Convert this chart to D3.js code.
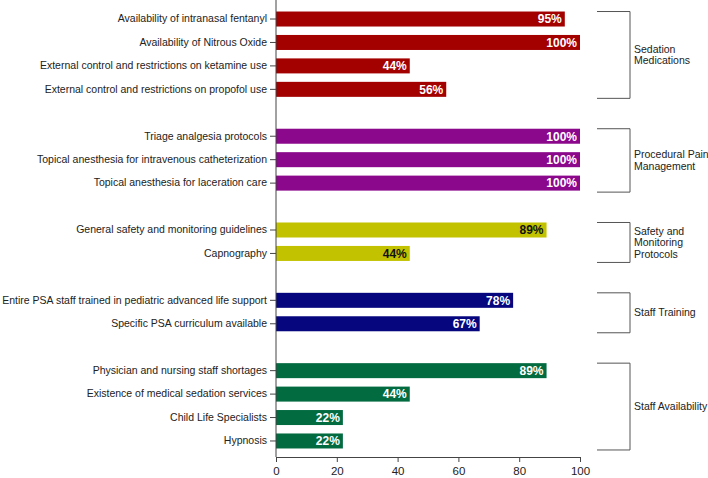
<!DOCTYPE html>
<html><head><meta charset="utf-8">
<script src="https://cdn.jsdelivr.net/npm/d3@7"></script>
<style>body{margin:0;background:#fff}svg{display:block;font-family:"Liberation Sans",Arial,sans-serif}</style>
</head><body>
<script>
const items = [
  "Availability of intranasal fentanyl","Availability of Nitrous Oxide","External control and restrictions on ketamine use","External control and restrictions on propofol use",
  "Triage analgesia protocols","Topical anesthesia for intravenous catheterization","Topical anesthesia for laceration care",
  "General safety and monitoring guidelines","Capnography",
  "Entire PSA staff trained in pediatric advanced life support","Specific PSA curriculum available",
  "Physician and nursing staff shortages","Existence of medical sedation services","Child Life Specialists","Hypnosis"
];
const values = [95,100,44,56, 100,100,100, 89,44, 78,67, 89,44,22,22];
const groupOf = [0,0,0,0, 1,1,1, 2,2, 3,3, 4,4,4,4];
const groupNames = [["Sedation","Medications"],["Procedural Pain","Management"],["Safety and","Monitoring","Protocols"],["Staff Training"],["Staff Availability"]];
const groupColors = ["#A30000","#8B078B","#C2C200","#06067F","#036B40"];
const labelColors = ["#fff","#fff","#111","#fff","#fff"];
const xTicks = [0,20,40,60,80,100];

const W=708,H=478;
const svg=d3.select("body").append("svg").attr("width",W).attr("height",H);

const slots=[];
items.forEach((d,i)=>{ if(i>0 && groupOf[i]!==groupOf[i-1]) slots.push("gap"+i); slots.push(d); });

const x=d3.scaleLinear().domain([0,100]).range([276,580]);
const y=d3.scaleBand().domain(slots).range([7.3,452.7]).paddingInner(0.36).paddingOuter(0.18);

const rows=items.map((d,i)=>({name:d,v:values[i],g:groupOf[i]}));
svg.selectAll("rect.bar").data(rows).join("rect")
  .attr("x",x(0)).attr("y",d=>y(d.name)).attr("width",d=>x(d.v)-x(0)).attr("height",y.bandwidth())
  .attr("fill",d=>groupColors[d.g]);
svg.selectAll("text.val").data(rows).join("text")
  .attr("x",d=>x(d.v)-3).attr("y",d=>y(d.name)+y.bandwidth()/2).attr("dy","0.36em")
  .attr("text-anchor","end").attr("font-size","12px").attr("font-weight","bold")
  .attr("fill",d=>labelColors[d.g]).text(d=>d.v+"%");

const yAxis=d3.axisLeft(y).tickValues(items).tickSize(6).tickPadding(3).tickSizeOuter(0);
const ga=svg.append("g").attr("transform","translate(276,0)").call(yAxis);
ga.select(".domain").remove();
ga.selectAll(".tick line").attr("stroke","#444");
ga.selectAll(".tick text").attr("font-size","10.5px").attr("fill","#222").attr("font-family","'Liberation Sans',Arial,sans-serif");
svg.append("line").attr("x1",276).attr("x2",276).attr("y1",0).attr("y2",457).attr("stroke","#444");

const xAxis=d3.axisBottom(x).tickValues(xTicks).tickSize(5).tickPadding(5).tickSizeOuter(0);
const gx=svg.append("g").attr("transform","translate(0,457)").call(xAxis);
gx.select(".domain").attr("stroke","#444");
gx.selectAll(".tick line").attr("stroke","#444");
gx.selectAll(".tick text").attr("font-size","11.5px").attr("fill","#222").attr("font-family","'Liberation Sans',Arial,sans-serif");

groupNames.forEach((names,g)=>{
  const members=rows.filter(r=>r.g===g);
  const top=y(members[0].name);
  const bot=y(members[members.length-1].name)+y.bandwidth()+1.5;
  svg.append("path").attr("d",`M597,${top}H630V${bot}H597`).attr("fill","none").attr("stroke","#555").attr("stroke-width",1);
  const mid=(top+bot)/2;
  const lh=11.5;
  const t=svg.append("text").attr("x",634).attr("font-size","10.5px").attr("fill","#222");
  names.forEach((n,k)=>{
    t.append("tspan").attr("x",634).attr("y",mid+(k-(names.length-1)/2)*lh).attr("dy","0.35em").text(n);
  });
});
</script>
</body></html>
